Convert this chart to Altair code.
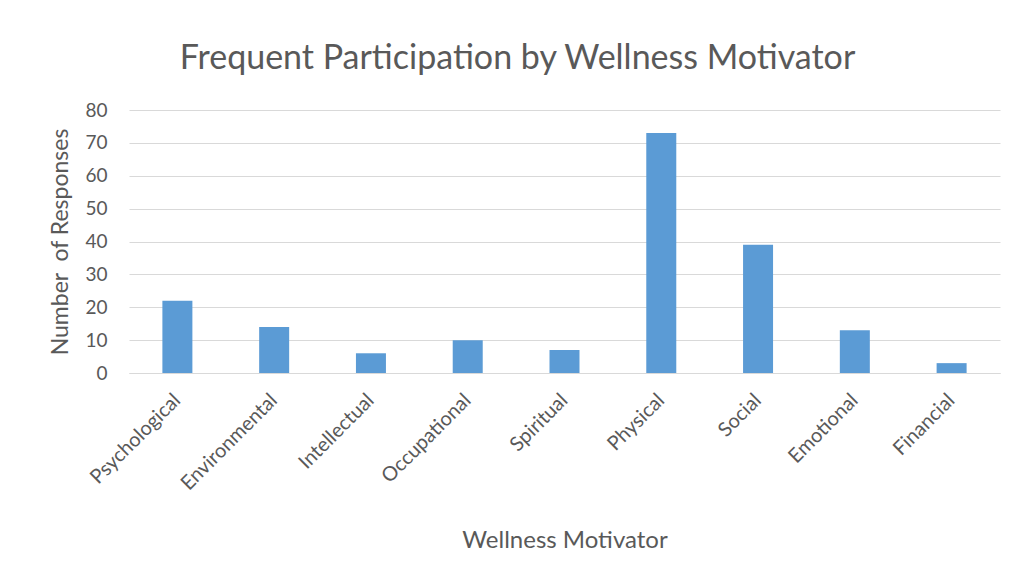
import altair as alt
import pandas as pd

categories = ["Psychological", "Environmental", "Intellectual", "Occupational",
              "Spiritual", "Physical", "Social", "Emotional", "Financial"]
responses = [22, 14, 6, 10, 7, 73, 39, 13, 3]

df = pd.DataFrame({"motivator": categories, "responses": responses})

FONT = "Lato"
TXT = "#595959"

chart = alt.Chart(df).mark_bar(color="#5B9BD5").encode(
    x=alt.X("motivator:N", sort=categories,
            scale=alt.Scale(paddingInner=0.69, paddingOuter=0.345),
            axis=alt.Axis(title="Wellness Motivator", labelAngle=-45,
                          labelAlign="right", labelBaseline="middle",
                          labelFontSize=20, labelColor=TXT, labelFont=FONT,
                          titleFontSize=24, titleColor=TXT, titleFont=FONT,
                          titleFontWeight="normal", titlePadding=35,
                          ticks=False, labelPadding=24, domain=True,
                          domainColor="#D9D9D9", grid=False)),
    y=alt.Y("responses:Q", scale=alt.Scale(domain=[0, 80], nice=False),
            axis=alt.Axis(title="Number\u00a0 of Responses", values=list(range(0, 90, 10)),
                          labelFontSize=19, labelColor=TXT, labelFont=FONT,
                          titleFontSize=23, titleColor=TXT, titleFont=FONT,
                          titleFontWeight="normal", titlePadding=12,
                          ticks=False, labelPadding=22, domain=False,
                          gridColor="#D9D9D9", gridWidth=1.2)),
).properties(
    width=871, height=263,
    title=alt.TitleParams("Frequent Participation by Wellness Motivator",
                          fontSize=34, font=FONT, color=TXT, fontWeight="normal",
                          anchor="middle", frame="group", dx=-47, offset=25),
    autosize=alt.AutoSizeParams(type="none"),
    padding={"left": 121, "top": 102, "right": 9, "bottom": 200},
).configure_view(stroke=None)

chart.save("out.html", embed_options={"renderer": "svg", "actions": False})
